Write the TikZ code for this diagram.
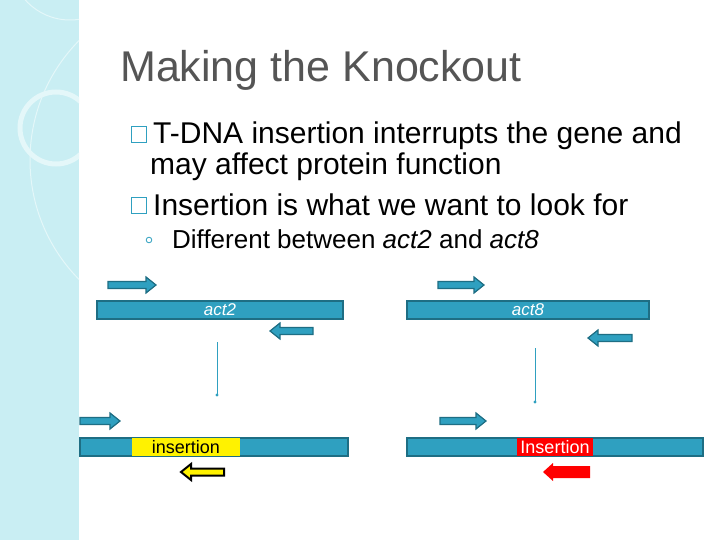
\documentclass[tikz,border=0pt]{standalone}
\usepackage{fontspec}
\setmainfont{Liberation Sans}
\begin{document}
\begin{tikzpicture}[x=1pt,y=-1pt]
\definecolor{strip}{HTML}{C9EEF3}
\definecolor{gene}{HTML}{2FA0C0}
\definecolor{geneb}{HTML}{1E6E84}
\definecolor{ttl}{HTML}{555555}
\tikzset{bar/.style={fill=gene,draw=geneb,line width=1.5pt},
 arr/.style={fill=gene,draw=geneb,line width=1.2pt,line join=miter},
 vline/.style={draw=gene,line width=1pt},
 bodytxt/.style={anchor=base west,font=\fontsize{30}{34}\selectfont,inner sep=0pt}}
\newcommand{\rarr}[4]{\draw[#4] (#1,#3-3.5) -- (#2-10,#3-3.5) -- (#2-10,#3-8) -- (#2,#3) -- (#2-10,#3+8) -- (#2-10,#3+3.5) -- (#1,#3+3.5) -- cycle;}
\newcommand{\larr}[4]{\draw[#4] (#2,#3-3.5) -- (#1+10,#3-3.5) -- (#1+10,#3-8) -- (#1,#3) -- (#1+10,#3+8) -- (#1+10,#3+3.5) -- (#2,#3+3.5) -- cycle;}
\useasboundingbox (0,0) rectangle (720,540);
\fill[white] (0,0) rectangle (720,540);
\fill[strip] (0,0) rectangle (79,540);
\begin{scope}
\clip (0,0) rectangle (79,540);
\draw[white!50!strip,line width=5pt] (56,128) circle (36);
\draw[white!50!strip,line width=1pt] (200,160) circle (170);
\draw[white!50!strip,line width=1pt] (70,-40) circle (60);
\end{scope}
\node[anchor=base west,text=ttl,font=\fontsize{43}{46}\selectfont,inner sep=0] (title) at (120,82) {Making the Knockout};
\draw[gene,line width=1pt] (131,127) rectangle (146,143);
\node[bodytxt] (b1) at (153,144) {T-DNA insertion interrupts the gene and};
\node[bodytxt] (b1b) at (150,175) {may affect protein function};
\draw[gene,line width=1pt] (131,198) rectangle (146,214);
\node[bodytxt] (b2) at (153,215) {Insertion is what we want to look for};
\draw[gene,line width=0.8pt] (149,240) circle (2.8);
\node[anchor=base west,font=\fontsize{26}{28}\selectfont,inner sep=0] (b3) at (172,248) {Different between \textit{act2} and \textit{act8}};
% act2
\rarr{108}{156}{285}{arr}
\node[bar,minimum width=246,minimum height=18,inner sep=0,text=white,font=\fontsize{17}{20}\selectfont\itshape] (act2) at (220,310) {act2};
\larr{270}{313}{331}{arr}
\coordinate (a2s) at (217,342);
\coordinate (a2e) at (217,395);
\draw[vline] (a2s) -- (a2e);
\fill[gene] (a2e) circle (1.6);
\rarr{80}{120}{421}{arr}
\node[bar,minimum width=268,minimum height=18,inner sep=0] (bot2) at (214,447) {};
\node[fill=yellow,minimum width=108,minimum height=18,inner sep=0,font=\fontsize{18}{20}\selectfont] (ins2) at (186,447) {insertion};
\larr{181}{224}{472}{fill=yellow,draw=black,line width=2pt}
% act8
\rarr{438}{484}{285}{arr}
\node[bar,minimum width=242,minimum height=18,inner sep=0,text=white,font=\fontsize{17}{20}\selectfont\itshape] (act8) at (528,310) {act8};
\larr{588}{632}{338}{arr}
\coordinate (a8s) at (535,348);
\coordinate (a8e) at (535,402);
\draw[vline] (a8s) -- (a8e);
\fill[gene] (a8e) circle (1.6);
\rarr{440}{486}{421}{arr}
\node[bar,minimum width=296,minimum height=18,inner sep=0] (bot8) at (555,447) {};
\node[fill=red,minimum width=76,minimum height=18,inner sep=0,text=white,font=\fontsize{18}{20}\selectfont] (ins8) at (555,447) {Insertion};
\fill[red] (590,466) -- (553,466) -- (553,463) -- (543,472) -- (553,481) -- (553,478) -- (590,478) -- cycle;
\end{tikzpicture}
\end{document}
